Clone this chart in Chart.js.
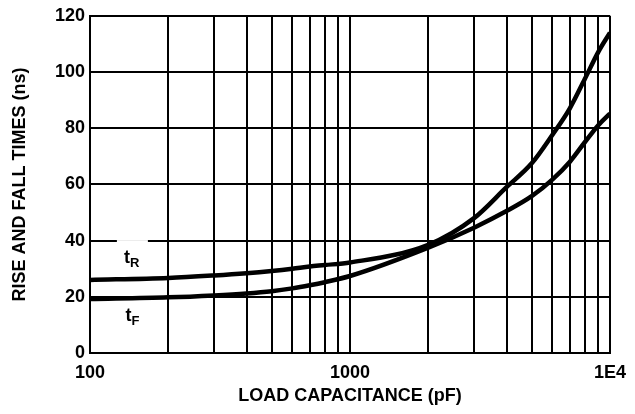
<!DOCTYPE html>
<html lang="en">
<head>
  <title>Rise and fall times vs load capacitance</title>
  <meta charset="utf-8">
  <script src="https://cdn.jsdelivr.net/npm/chart.js@4.4.1/dist/chart.umd.min.js"></script>
  <style type="text/css">
    html, body { margin: 0; padding: 0; background: #fff; }
    #wrap { width: 635px; height: 414px; }
  </style>
</head>
<body>
<div id="wrap"><canvas id="times-canvas"></canvas></div>
<script type="text/javascript">
// load capacitance (pF) and times (ns)
var capacitance = [100, 200, 300, 400, 500, 600, 700, 800, 1000, 2000, 3000, 4000, 5000, 6000, 7000, 8000, 9000, 10000];
var riseTime    = [26, 26.7, 27.6, 28.4, 29.2, 30, 30.8, 31.3, 32.2, 38.5, 48, 59, 67.5, 77.6, 87, 97.5, 107, 114];
var fallTime    = [19.2, 19.8, 20.5, 21.2, 22, 23, 24.1, 25.2, 27.4, 37.5, 44.6, 50.5, 55.8, 61.7, 68, 75, 81, 85.2];

var xGridValues = [100, 200, 300, 400, 500, 600, 700, 800, 900, 1000, 2000, 3000, 4000, 5000, 6000, 7000, 8000, 9000, 10000];
var xTickLabels = {100: "100", 1000: "1000", 10000: "1E4"};
var yTickValues = [0, 20, 40, 60, 80, 100, 120];

var curveLabels = [
  {main: "t", sub: "R", x: 135, y: 32},
  {main: "t", sub: "F", x: 137, y: 11.3}
];

var FONT = "'Liberation Sans', Arial, sans-serif";

function toPoints(values) {
  return capacitance.map(function(c, i) { return {x: c, y: values[i]}; });
}

var labelPlugin = {
  id: "curveLabels",
  beforeDatasetsDraw: function(chart) {
    var ctx = chart.ctx;
    var xs = chart.scales.x, ys = chart.scales.y;
    ctx.save();
    curveLabels.forEach(function(lb) {
      var px = xs.getPixelForValue(lb.x);
      var py = ys.getPixelForValue(lb.y);
      ctx.fillStyle = "#fff";
      ctx.fillRect(px - 7, py - 23, 31, 31);
      ctx.fillStyle = "#000";
      ctx.textBaseline = "alphabetic";
      ctx.textAlign = "left";
      ctx.font = "bold 18px " + FONT;
      ctx.fillText(lb.main, px, py);
      var w = ctx.measureText(lb.main).width;
      ctx.font = "bold 13px " + FONT;
      ctx.fillText(lb.sub, px + w, py + 4);
    });
    ctx.restore();
  }
};

var ctx = document.getElementById("times-canvas").getContext("2d");
var timesChart = new Chart(ctx, {
  type: "line",
  data: {
    datasets: [{
      label: "tR",
      data: toPoints(riseTime),
      borderColor: "#000",
      borderWidth: 4.5,
      pointRadius: 0,
      cubicInterpolationMode: "monotone",
      fill: false
    }, {
      label: "tF",
      data: toPoints(fallTime),
      borderColor: "#000",
      borderWidth: 4.5,
      pointRadius: 0,
      cubicInterpolationMode: "monotone",
      fill: false
    }]
  },
  options: {
    responsive: true,
    maintainAspectRatio: false,
    animation: false,
    layout: { padding: { left: 0, right: 22, top: 11, bottom: 0 } },
    plugins: {
      legend: { display: false },
      tooltip: { enabled: false }
    },
    scales: {
      x: {
        type: "logarithmic",
        min: 100,
        max: 10000,
        afterBuildTicks: function(scale) {
          scale.ticks = xGridValues.map(function(v) { return {value: v}; });
        },
        afterFit: function(scale) { scale.height = 61; },
        grid: { color: "#000", lineWidth: 2, drawTicks: false },
        border: { color: "#000", width: 2 },
        ticks: {
          autoSkip: false,
          maxRotation: 0,
          padding: 9,
          color: "#000",
          font: { family: FONT, size: 18, weight: "bold" },
          callback: function(v) { return xTickLabels[v] || ""; }
        },
        title: {
          display: true,
          text: "LOAD CAPACITANCE (pF)",
          color: "#000",
          padding: { top: 0, bottom: 7 },
          font: { family: FONT, size: 18, weight: "bold" }
        }
      },
      y: {
        min: 0,
        max: 120,
        afterBuildTicks: function(scale) {
          scale.ticks = yTickValues.map(function(v) { return {value: v}; });
        },
        afterFit: function(scale) { scale.width = 90; },
        grid: { color: "#000", lineWidth: 2, drawTicks: false },
        border: { color: "#000", width: 2 },
        ticks: {
          padding: 5,
          color: "#000",
          font: { family: FONT, size: 18, weight: "bold" }
        },
        title: {
          display: true,
          text: "RISE AND FALL TIMES (ns)",
          color: "#000",
          padding: { top: 9, bottom: 0 },
          font: { family: FONT, size: 18, weight: "bold" }
        }
      }
    }
  },
  plugins: [labelPlugin]
});
</script>
</body>
</html>
